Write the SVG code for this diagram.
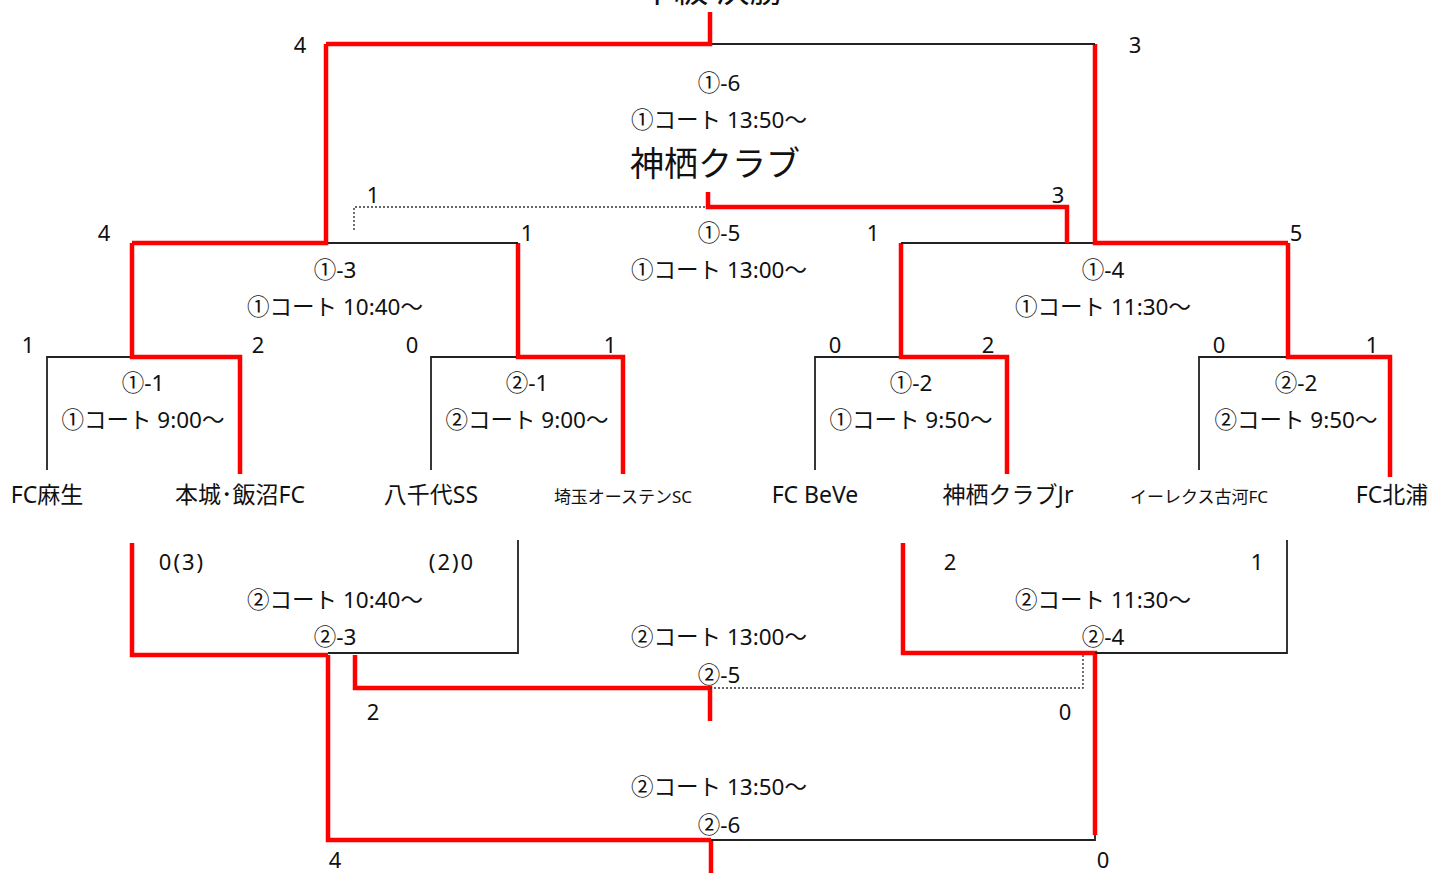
<svg xmlns="http://www.w3.org/2000/svg" width="1432" height="873" viewBox="0 0 1432 873">
<style>
text{font-family:"Noto Sans","Noto Sans CJK JP",sans-serif;fill:#111;font-size:22px;text-anchor:middle}
.lbl{font-size:22.5px}
.nm{font-size:23px}
.big{font-size:34px;font-family:"Noto Sans CJK JP",sans-serif}
.sm{font-size:17px}
.b{stroke:#222;stroke-width:1.8;fill:none}
.r{stroke:#ff0000;stroke-width:4.5;fill:none}
.d{stroke:#333;stroke-width:1.4;fill:none;stroke-dasharray:2 2}
</style>
<rect width="1432" height="873" fill="#fff"/>
<g id="connectors">
<path class="b" d="M47,470 V357 H132"/>
<path class="b" d="M431,470 V357 H518"/>
<path class="b" d="M815,470 V357 H901"/>
<path class="b" d="M1199,470 V357 H1288"/>
<path class="r" d="M132,243 V357 H240 V474"/>
<path class="r" d="M518,243 V357 H623 V474"/>
<path class="r" d="M901,243 V357 H1007 V474"/>
<path class="r" d="M1288,243 V357 H1390 V477"/>
<path class="b" d="M326,243 H518"/>
<path class="b" d="M901,243 H1095"/>
<path class="r" d="M132,243 H326 V44"/>
<path class="r" d="M1288,243 H1095 V44"/>
<path class="d" d="M354,230 V207 H708"/>
<path class="r" d="M708,192 V207 H1067 V243"/>
<path class="b" d="M710,44 H1095"/>
<path class="r" d="M326,44 H710 V12"/>
<path class="r" d="M132,543 V655 H328"/>
<path class="b" d="M328,653 H518 V540"/>
<path class="r" d="M328,655 V840 H711"/>
<path class="r" d="M711,840 V873"/>
<path class="r" d="M355,655 V688 H710 V721"/>
<path class="d" d="M710,688 H1083 V655"/>
<path class="r" d="M903,543 V653 H1095 V835"/>
<path class="b" d="M1095,653 H1287 V540"/>
<path class="b" d="M711,840 H1095 V835"/>
</g>
<g id="title"><text class="big" x="712" y="2">中級 決勝</text></g>
<g id="m1-6">
<text x="300" y="53">4</text><text x="1135" y="53">3</text>
<text class="lbl" x="719" y="91">①-6</text>
<text class="lbl" x="719" y="128">①コート 13:50～</text>
<text class="big" x="715" y="176">神栖クラブ</text>
</g>
<g id="m1-5">
<text x="373" y="203">1</text><text x="1058" y="203">3</text>
<text class="lbl" x="719" y="241">①-5</text>
<text class="lbl" x="719" y="278">①コート 13:00～</text>
</g>
<g id="m1-3">
<text x="104" y="241">4</text><text x="527" y="241">1</text>
<text class="lbl" x="335" y="278">①-3</text>
<text class="lbl" x="335" y="315">①コート 10:40～</text>
</g>
<g id="m1-4">
<text x="873" y="241">1</text><text x="1296" y="241">5</text>
<text class="lbl" x="1103" y="278">①-4</text>
<text class="lbl" x="1103" y="315">①コート 11:30～</text>
</g>
<g id="m1-1">
<text x="28" y="353">1</text><text x="258" y="353">2</text>
<text class="lbl" x="143" y="391">①-1</text>
<text class="lbl" x="143" y="428">①コート 9:00～</text>
</g>
<g id="m2-1">
<text x="412" y="353">0</text><text x="610" y="353">1</text>
<text class="lbl" x="527" y="391">②-1</text>
<text class="lbl" x="527" y="428">②コート 9:00～</text>
</g>
<g id="m1-2">
<text x="835" y="353">0</text><text x="988" y="353">2</text>
<text class="lbl" x="911" y="391">①-2</text>
<text class="lbl" x="911" y="428">①コート 9:50～</text>
</g>
<g id="m2-2">
<text x="1219" y="353">0</text><text x="1372" y="353">1</text>
<text class="lbl" x="1296" y="391">②-2</text>
<text class="lbl" x="1296" y="428">②コート 9:50～</text>
</g>
<g id="teams">
<text class="nm" x="47" y="503">FC麻生</text>
<text class="nm" x="240" y="503">本城･飯沼FC</text>
<text class="nm" x="431" y="503">八千代SS</text>
<text class="sm" x="623" y="503">埼玉オーステンSC</text>
<text class="nm" x="815" y="503">FC BeVe</text>
<text class="nm" x="1008" y="503">神栖クラブJr</text>
<text class="sm" x="1199" y="503">イーレクス古河FC</text>
<text class="nm" x="1392" y="503">FC北浦</text>
</g>
<g id="m2-3">
<text x="182" y="570" letter-spacing="2">0(3)</text><text x="452" y="570" letter-spacing="2">(2)0</text>
<text class="lbl" x="335" y="608">②コート 10:40～</text>
<text class="lbl" x="335" y="645">②-3</text>
</g>
<g id="m2-4">
<text x="950" y="570">2</text><text x="1257" y="570">1</text>
<text class="lbl" x="1103" y="608">②コート 11:30～</text>
<text class="lbl" x="1103" y="645">②-4</text>
</g>
<g id="m2-5">
<text class="lbl" x="719" y="645">②コート 13:00～</text>
<text class="lbl" x="719" y="683">②-5</text>
<text x="373" y="720">2</text><text x="1065" y="720">0</text>
</g>
<g id="m2-6">
<text class="lbl" x="719" y="795">②コート 13:50～</text>
<text class="lbl" x="719" y="833">②-6</text>
<text x="335" y="868">4</text><text x="1103" y="868">0</text>
</g>
</svg>
